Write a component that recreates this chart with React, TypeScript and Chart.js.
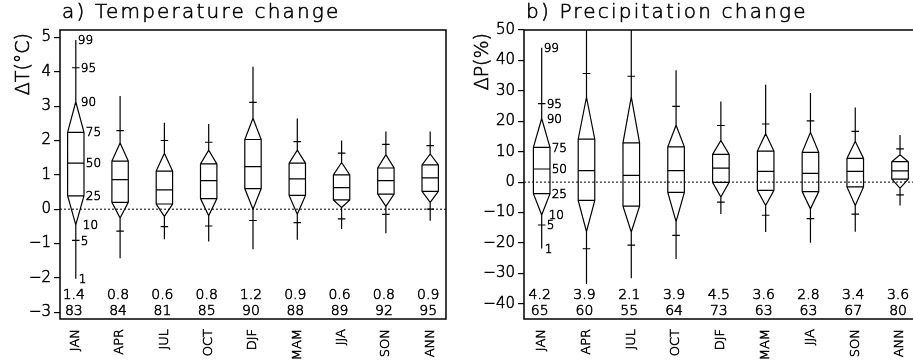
import React, { useEffect, useRef } from "react";
import { Chart, registerables } from "chart.js";
Chart.register(...registerables);

const categories = ["JAN", "APR", "JUL", "OCT", "DJF", "MAM", "JJA", "SON", "ANN"];
const percentileNames = ["1", "5", "10", "25", "50", "75", "90", "95", "99"];

// a) Temperature change percentiles (°C)
const tempP1 = [-2.03, -1.43, -0.88, -0.94, -1.17, -0.89, -0.58, -0.70, -0.34];
const tempP5 = [-0.91, -0.64, -0.51, -0.49, -0.33, -0.39, -0.28, -0.15, 0.0];
const tempP10 = [-0.46, -0.26, -0.21, -0.19, 0.0, -0.15, 0.05, 0.08, 0.2];
const tempP25 = [0.39, 0.2, 0.15, 0.31, 0.6, 0.4, 0.27, 0.44, 0.52];
const tempP50 = [1.34, 0.86, 0.56, 0.83, 1.24, 0.88, 0.63, 0.83, 0.91];
const tempP75 = [2.24, 1.4, 1.11, 1.32, 2.03, 1.34, 1.0, 1.2, 1.29];
const tempP90 = [3.13, 1.93, 1.63, 1.72, 2.65, 1.72, 1.36, 1.59, 1.61];
const tempP95 = [4.12, 2.29, 2.0, 1.95, 3.11, 1.97, 1.63, 1.89, 1.85];
const tempP99 = [4.93, 3.3, 2.52, 2.48, 4.15, 2.64, 2.0, 2.26, 2.26];
const tempMedianText = ["1.4", "0.8", "0.6", "0.8", "1.2", "0.9", "0.6", "0.8", "0.9"];
const tempAgreeText = ["83", "84", "81", "85", "90", "88", "89", "92", "95"];
const tempTicks = [-3, -2, -1, 0, 1, 2, 3, 4, 5];

// b) Precipitation change percentiles (%)
const precP1 = [-21.8, -33.5, -31.6, -25.3, -10.5, -16.4, -19.9, -16.3, -7.7];
const precP5 = [-14.1, -21.9, -20.7, -17.5, -6.6, -10.9, -12.0, -10.5, -4.2];
const precP10 = [-10.8, -16.3, -16.4, -13.0, -4.9, -7.7, -8.8, -7.7, -2.0];
const precP25 = [-3.8, -6.0, -7.9, -3.4, -0.1, -2.7, -3.1, -1.6, 1.0];
const precP50 = [4.3, 3.8, 2.2, 3.8, 4.6, 3.5, 2.9, 3.5, 3.7];
const precP75 = [11.4, 14.1, 12.9, 11.6, 9.1, 10.2, 9.8, 7.8, 6.7];
const precP90 = [20.9, 27.9, 28.0, 18.7, 13.7, 15.9, 16.4, 13.4, 9.0];
const precP95 = [25.8, 35.7, 34.8, 24.9, 18.6, 19.1, 20.1, 16.7, 10.9];
const precP99 = [44.2, 55.0, 55.0, 36.8, 26.5, 32.0, 29.3, 24.5, 15.5];
const precMedianText = ["4.2", "3.9", "2.1", "3.9", "4.5", "3.6", "2.8", "3.4", "3.6"];
const precAgreeText = ["65", "60", "55", "64", "73", "63", "63", "67", "80"];
const precTicks = [-40, -30, -20, -10, 0, 10, 20, 30, 40, 50];

const FONT = "'DejaVu Sans', sans-serif";
const WEIGHT = "200";
const STROKE = 0.55;
const HALF_W = 0.185;
const TICK_W = 0.085;
const LABEL_DX = [3, 5, 7, 10, 10, 10, 5, 5, 2];

type Pt = { x: number; y: number | null };

function buildKites(p: number[][]): Pt[] {
  const pts: Pt[] = [];
  const gap = (x: number) => pts.push({ x, y: null });
  categories.forEach((_, i) => {
    const [q1, q5, q10, q25, q50, q75, q90, q95, q99] = p.map((a) => a[i]);
    pts.push(
      { x: i, y: q10 }, { x: i + HALF_W, y: q25 }, { x: i + HALF_W, y: q75 },
      { x: i, y: q90 }, { x: i - HALF_W, y: q75 }, { x: i - HALF_W, y: q25 }, { x: i, y: q10 }
    );
    gap(i);
    pts.push({ x: i, y: q90 }, { x: i, y: q99 });
    gap(i);
    pts.push({ x: i, y: q1 }, { x: i, y: q10 });
    gap(i);
    for (const q of [q25, q50, q75]) {
      pts.push({ x: i - HALF_W, y: q }, { x: i + HALF_W, y: q });
      gap(i);
    }
    for (const q of [q5, q95]) {
      pts.push({ x: i - TICK_W, y: q }, { x: i + TICK_W, y: q });
      gap(i);
    }
  });
  return pts;
}

type Spec = {
  title: string;
  yTitle: string;
  yTitleX: number;
  p: number[][];
  ticks: number[];
  yMin: number;
  yMax: number;
  xMargin: number;
  medianText: string[];
  agreeText: string[];
  yAxisWidth: number;
  padRight: number;
  canvasWidth: number;
};

const panelA: Spec = {
  title: "a) Temperature change",
  yTitle: "\u0394T(\u00b0C)",
  yTitleX: 24,
  p: [tempP1, tempP5, tempP10, tempP25, tempP50, tempP75, tempP90, tempP95, tempP99],
  ticks: tempTicks,
  yMin: -3.2,
  yMax: 5.22,
  xMargin: 0.3565,
  medianText: tempMedianText,
  agreeText: tempAgreeText,
  yAxisWidth: 60,
  padRight: 5,
  canvasWidth: 456,
};

const panelB: Spec = {
  title: "b) Precipitation change",
  yTitle: "\u0394P(%)",
  yTitleX: 27,
  p: [precP1, precP5, precP10, precP25, precP50, precP75, precP90, precP95, precP99],
  ticks: precTicks,
  yMin: -45,
  yMax: 50,
  xMargin: 0.395,
  medianText: precMedianText,
  agreeText: precAgreeText,
  yAxisWidth: 68,
  padRight: 8,
  canvasWidth: 470,
};

function fmt(v: number): string {
  return v < 0 ? "\u2212" + Math.abs(v) : String(v);
}

function drawText(ctx: CanvasRenderingContext2D, s: string, x: number, y: number) {
  ctx.fillText(s, x, y);
  ctx.strokeText(s, x, y);
}

function Panel({ spec, left }: { spec: Spec; left: number }) {
  const ref = useRef<HTMLCanvasElement>(null);
  useEffect(() => {
    const xMin = -spec.xMargin;
    const xMax = categories.length - 1 + spec.xMargin;
    const decor = {
      id: "decor",
      afterDraw(chart: any) {
        const ctx = chart.ctx as CanvasRenderingContext2D;
        const a = chart.chartArea;
        const xs = chart.scales.x;
        const ys = chart.scales.y;
        ctx.save();
        // frame
        ctx.strokeStyle = "#000";
        ctx.lineWidth = 1.5;
        ctx.strokeRect(a.left, a.top, a.right - a.left, a.bottom - a.top);
        ctx.fillStyle = "#000";
        ctx.lineWidth = STROKE;
        // title
        ctx.font = `${WEIGHT} 20px ${FONT}`;
        (ctx as any).letterSpacing = "2.2px";
        ctx.textAlign = "left";
        ctx.textBaseline = "alphabetic";
        drawText(ctx, spec.title, a.left + 2, 18);
        (ctx as any).letterSpacing = "0px";
        // y title
        ctx.save();
        ctx.translate(spec.yTitleX, 33);
        ctx.rotate(-Math.PI / 2);
        ctx.font = `${WEIGHT} 19px ${FONT}`;
        ctx.textAlign = "right";
        ctx.textBaseline = "middle";
        drawText(ctx, spec.yTitle, 0, 0);
        ctx.restore();
        // percentile labels next to first category
        ctx.font = `${WEIGHT} 12px ${FONT}`;
        ctx.textAlign = "left";
        ctx.textBaseline = "middle";
        const x0 = xs.getPixelForValue(0);
        percentileNames.forEach((name, k) => {
          const y = ys.getPixelForValue(spec.p[k][0]);
          drawText(ctx, name, x0 + LABEL_DX[k], y + 1);
        });
        // bottom numbers
        ctx.font = `${WEIGHT} 14px ${FONT}`;
        ctx.textAlign = "center";
        categories.forEach((_, i) => {
          const x = xs.getPixelForValue(i) - 2;
          drawText(ctx, spec.medianText[i], x, a.bottom - 24);
          drawText(ctx, spec.agreeText[i], x, a.bottom - 8);
        });
        ctx.restore();
      },
    };
    const chart = new Chart(ref.current!, {
      type: "scatter",
      data: {
        datasets: [
          {
            data: [
              { x: xMin, y: 0 },
              { x: xMax, y: 0 },
            ],
            showLine: true,
            borderColor: "#000",
            borderWidth: 1,
            borderDash: [2, 2],
            pointRadius: 0,
          },
          {
            data: buildKites(spec.p) as any,
            showLine: true,
            spanGaps: false,
            borderColor: "#000",
            borderWidth: 1.2,
            pointRadius: 0,
          },
        ],
      },
      options: {
        animation: false,
        responsive: false,
        devicePixelRatio: 1,
        events: [],
        layout: { padding: { left: 0, top: 30, right: spec.padRight, bottom: 0 } },
        plugins: { legend: { display: false }, tooltip: { enabled: false }, title: { display: false } },
        scales: {
          x: {
            type: "linear",
            min: xMin,
            max: xMax,
            afterBuildTicks: (s: any) => {
              s.ticks = categories.map((_, i) => ({ value: i }));
            },
            afterFit: (s: any) => {
              s.height = 42;
            },
            grid: { display: false, drawTicks: false },
            border: { display: false },
            ticks: {
              autoSkip: false,
              minRotation: 90,
              maxRotation: 90,
              padding: 10,
              color: "#000",
              textStrokeColor: "#000",
              textStrokeWidth: STROKE,
              font: { family: FONT, size: 13, weight: WEIGHT },
              callback: (v: any) => categories[Math.round(Number(v))] ?? "",
            },
          },
          y: {
            type: "linear",
            min: spec.yMin,
            max: spec.yMax,
            afterBuildTicks: (s: any) => {
              s.ticks = spec.ticks.map((v) => ({ value: v }));
            },
            afterFit: (s: any) => {
              s.width = spec.yAxisWidth;
            },
            grid: { display: true, drawOnChartArea: false, drawTicks: true, tickLength: 6, color: "#000", lineWidth: 1.2 },
            border: { display: false },
            ticks: {
              padding: 3,
              color: "#000",
              textStrokeColor: "#000",
              textStrokeWidth: STROKE,
              font: { family: FONT, size: 15, weight: WEIGHT },
              callback: (v: any) => fmt(Number(v)),
            },
          },
        },
      },
      plugins: [decor],
    } as any);
    return () => chart.destroy();
  }, [spec]);
  return (
    <canvas
      ref={ref}
      width={spec.canvasWidth}
      height={361}
      style={{ position: "absolute", left, top: 0, width: spec.canvasWidth, height: 361 }}
    />
  );
}

export default function App() {
  return (
    <div
      style={{
        position: "fixed",
        left: 0,
        top: 0,
        width: 913,
        height: 361,
        overflow: "hidden",
        background: "#fff",
      }}
    >
      <Panel spec={panelA} left={0} />
      <Panel spec={panelB} left={456} />
    </div>
  );
}
